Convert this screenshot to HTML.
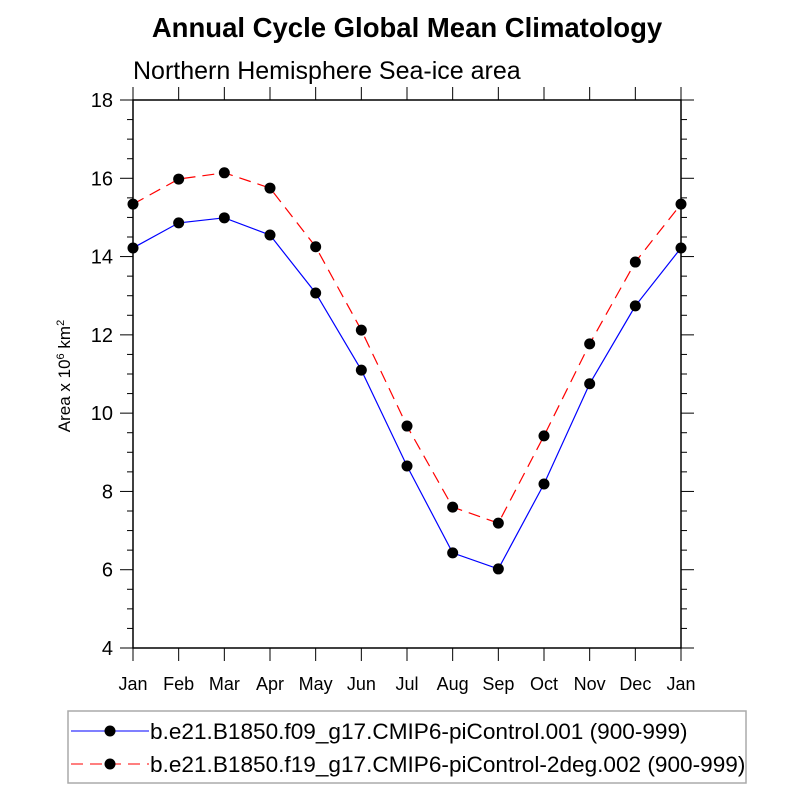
<!DOCTYPE html>
<html><head><meta charset="utf-8"><style>
body{margin:0;background:#fff}
svg text{font-family:"Liberation Sans",sans-serif}
</style></head><body>
<svg id="c" width="800" height="800" viewBox="0 0 800 800">
<text x="407" y="37" text-anchor="middle" font-size="27.5" font-weight="bold">Annual Cycle Global Mean Climatology</text>
<text x="133" y="79" font-size="25">Northern Hemisphere Sea-ice area</text>
<g id="axes"></g>
<g id="series"></g>
<text transform="translate(70,376) rotate(-90)" text-anchor="middle" font-size="17">Area x 10<tspan dy="-6" font-size="11">6</tspan><tspan dy="6"> km</tspan><tspan dy="-6" font-size="11">2</tspan></text>
<rect x="68" y="711" width="678" height="72" fill="#fff" stroke="#aaa" stroke-width="1.5"/>
<g>
<line x1="71" y1="731" x2="149" y2="731" stroke="#55f" stroke-width="1.5"/>
<circle cx="110" cy="731" r="5.5" fill="#000"/>
<text x="150" y="739" font-size="22.6">b.e21.B1850.f09_g17.CMIP6-piControl.001 (900-999)</text>
</g>
<g>
<line x1="71" y1="764" x2="149" y2="764" stroke="#f55" stroke-width="1.5" stroke-dasharray="12,7"/>
<circle cx="110" cy="764" r="5.5" fill="#000"/>
<text x="150" y="772" font-size="22.6">b.e21.B1850.f19_g17.CMIP6-piControl-2deg.002 (900-999)</text>
</g>
</svg>
<script>
const months=["Jan","Feb","Mar","Apr","May","Jun","Jul","Aug","Sep","Oct","Nov","Dec","Jan"];
const blueValues=[14.22,14.86,14.99,14.55,13.07,11.1,8.65,6.43,6.02,8.19,10.75,12.74,14.22];
const redValues=[15.34,15.98,16.14,15.75,14.25,12.12,9.67,7.6,7.19,9.42,11.77,13.86,15.34];
const yTicks=[4,6,8,10,12,14,16,18];
const NS="http://www.w3.org/2000/svg";
const L=133,R=681,T=100,B=648,YMIN=4,YMAX=18;
const xs=i=>L+(R-L)*i/(months.length-1);
const ys=v=>B-(v-YMIN)/(YMAX-YMIN)*(B-T);
function mk(tag,attrs,parent){const e=document.createElementNS(NS,tag);for(const k in attrs)e.setAttribute(k,attrs[k]);parent.appendChild(e);return e;}
const ax=document.getElementById('axes');
const frame=mk('rect',{x:L,y:T,width:R-L,height:B-T,fill:'none',stroke:'#000','stroke-width':1.5},ax);


for(let v=YMIN;v<=YMAX+1e-9;v+=0.5){
  const major=Math.abs(v-Math.round(v/2)*2)<1e-9;const len=major?13:6;
  mk('line',{x1:L-len,x2:L,y1:ys(v),y2:ys(v),stroke:'#000','stroke-width':1},ax);
  mk('line',{x1:R,x2:R+len,y1:ys(v),y2:ys(v),stroke:'#000','stroke-width':1},ax);
}
yTicks.forEach(v=>{
  const t=mk('text',{x:L-20,y:ys(v)+7,'text-anchor':'end','font-size':20},ax);t.textContent=v;
  
  
});
months.forEach((m,i)=>{
  mk('line',{x1:xs(i),x2:xs(i),y1:B,y2:B+13,stroke:'#000','stroke-width':1},ax);
  mk('line',{x1:xs(i),x2:xs(i),y1:T-13,y2:T,stroke:'#000','stroke-width':1},ax);
  const t=mk('text',{x:xs(i),y:B+42,'text-anchor':'middle','font-size':18},ax);t.textContent=m;
  
  
});
const sg=document.getElementById('series');
function draw(vals,color,dash,name){
  const g=mk('g',{},sg);
  
  
  const p=mk('polyline',{points:vals.map((v,i)=>xs(i)+','+ys(v)).join(' '),fill:'none',stroke:color,'stroke-width':1.2},g);
  if(dash)p.setAttribute('stroke-dasharray',dash);
  vals.forEach((v,i)=>{
    const c=mk('circle',{cx:xs(i),cy:ys(v),r:5.5,fill:'#000'},g);
    
    
  });
}
draw(blueValues,'#00f',null,'series-blue');
draw(redValues,'#f00','12,7','series-red');
</script>
</body></html>
